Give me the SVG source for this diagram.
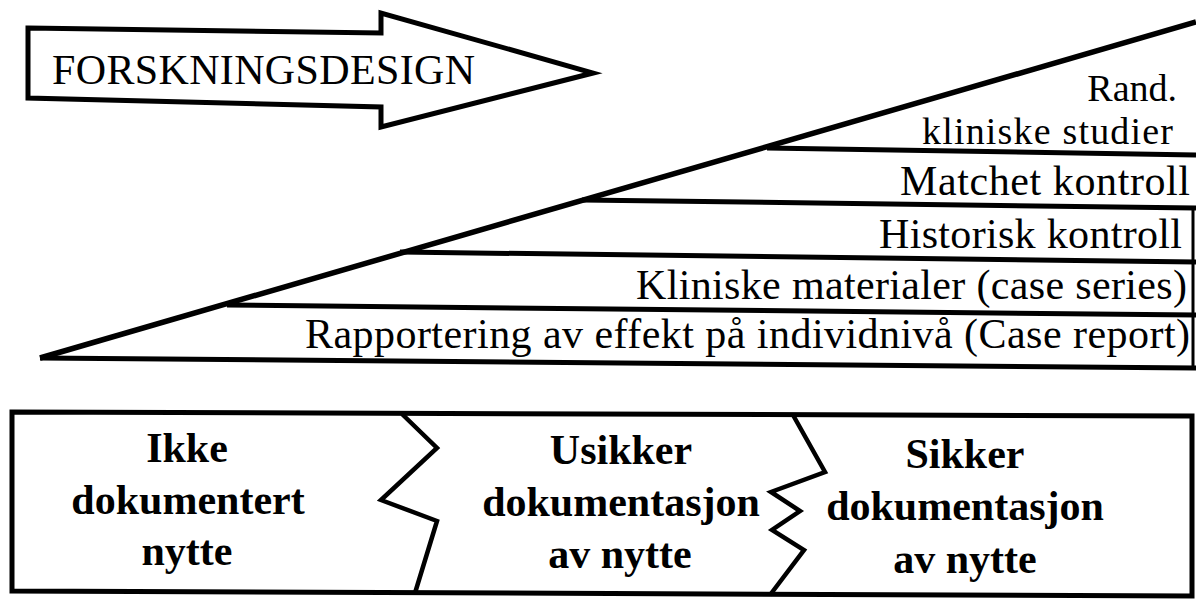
<svg xmlns="http://www.w3.org/2000/svg" width="1196" height="609" viewBox="0 0 1196 609">
<style>
.ln{fill:none;stroke:#000;stroke-width:5;stroke-linejoin:miter;stroke-linecap:butt}
.zz{fill:none;stroke:#000;stroke-width:4.5;stroke-linejoin:miter}
.t{font-family:"Liberation Serif","Times New Roman",serif;font-size:42px;fill:#000}
.s{font-size:38px}
.r{text-anchor:end}
.b{font-weight:bold;text-anchor:middle}
</style>
<rect width="1196" height="609" fill="#fff"/>
<g id="arrow">
<polygon class="ln" points="28,28 381,33 381,13 593,73 381,127 381,107 28,98"/>
<text class="t" x="52" y="84" textLength="423">FORSKNINGSDESIGN</text>
</g>
<g id="ladder">
<path class="ln" d="M40,358 L1196,22" style="stroke-width:5.5"/>
<path class="ln" d="M767,148 L1196,155 M582,200 L1196,208 M400,252 L1196,262 M227,305 L1196,315 M40,358 L1196,368"/>
<path class="ln" d="M1193,207 L1193,368" style="stroke-width:3"/>
</g>
<g id="levels">
<text class="t s r" x="1177" y="101">Rand.</text>
<text class="t s r" x="1173" y="144" textLength="251">kliniske studier</text>
<text class="t r" x="1190" y="195" textLength="290">Matchet kontroll</text>
<text class="t r" x="1182" y="248" textLength="303">Historisk kontroll</text>
<text class="t r" x="1187" y="299" textLength="551">Kliniske materialer (case series)</text>
<text class="t r" x="1190" y="348" textLength="885">Rapportering av effekt på individnivå (Case report)</text>
</g>
<g id="box">
<path class="ln" d="M12,412 L1192,416 L1192,596 L12,591 Z"/>
</g>
<g id="dividers">
<polyline class="zz" points="402,414 437,448 381,500 437,521 415,593"/>
<polyline class="zz" points="793,415 825,472 771,492 800,511 772,530 804,550 770,595"/>
</g>
<g id="n1">
<text class="t b" x="187" y="462">Ikke</text>
<text class="t b" x="188" y="514">dokumentert</text>
<text class="t b" x="187" y="565">nytte</text>
</g>
<g id="n2">
<text class="t b" x="621" y="464">Usikker</text>
<text class="t b" x="621" y="516">dokumentasjon</text>
<text class="t b" x="620" y="568">av nytte</text>
</g>
<g id="n3">
<text class="t b" x="965" y="468">Sikker</text>
<text class="t b" x="965" y="520">dokumentasjon</text>
<text class="t b" x="965" y="573">av nytte</text>
</g>
</svg>
